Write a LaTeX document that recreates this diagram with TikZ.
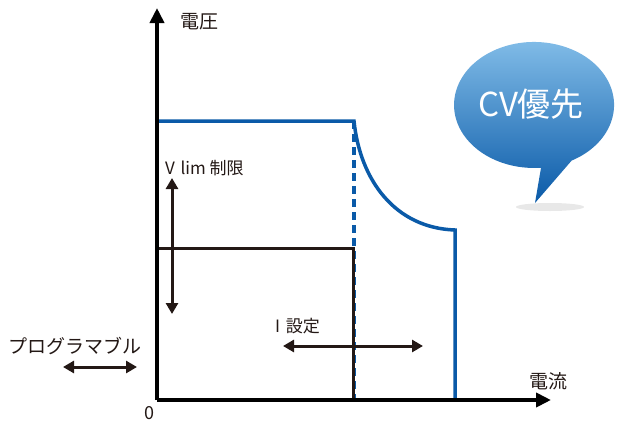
\documentclass[tikz,border=0pt]{standalone}
\usepackage{fontspec}
\usepackage{tikz}
\usetikzlibrary{arrows.meta,shapes.geometric}
\newfontfamily\jpfont{Noto Sans CJK JP}
\definecolor{cvblue}{HTML}{0A5AA8}
\definecolor{cvlight}{HTML}{86C0EA}
\definecolor{inkblack}{HTML}{231815}

\tikzset{
  axis/.style={line width=4pt,-{Triangle[length=15pt,width=14pt]}},
  limit/.style={inkblack,line width=3pt},
  curve/.style={cvblue,line width=3.5pt},
  dblarrow/.style={inkblack,line width=3pt,{Triangle[length=11pt,width=12pt]}-{Triangle[length=11pt,width=12pt]}},
  lbl/.style={font=\jpfont\fontsize{17}{17}\selectfont,text=inkblack,inner sep=0pt}
}

\begin{document}
\begin{tikzpicture}[x=1pt,y=-1pt]
  \useasboundingbox (0,0) rectangle (618,423);
  \coordinate (o) at (157,400);
  \coordinate (ytop) at (157,8);
  \coordinate (xend) at (551,400);

  % speech bubble
  \fill[gray!30,opacity=0.6] (550,207) ellipse (34pt and 4pt);
  \coordinate (tip) at (535,203);
  \shade[top color=cvlight,bottom color=cvblue]
    (tip) -- (534+37.6,105+55.6) arc[start angle=62,end angle=-275,x radius=80,y radius=63] -- cycle;
  \node[font=\jpfont\fontsize{33}{33}\selectfont,text=white] (cv) at (531,104) {CV優先};

  % limits
  \draw[curve,dash pattern=on 8pt off 5pt] (354,121) -- (354,400);
  \draw[limit] (o |- 0,248) -- (353,248) -- (353,400);
  \draw[curve] (o |- 0,121) -- (354,121) .. controls (360,180) and (395,228) .. (455,230) -- (455,400);

  % axes
  \draw[axis] (o) -- (ytop);
  \draw[axis] (o) -- (xend);
  \node[font=\jpfont\fontsize{19}{19}\selectfont,text=inkblack] (vlab) at (199,22) {電圧};
  \node[font=\jpfont\fontsize{19}{19}\selectfont,text=inkblack] (ilab) at (548,381) {電流};
  \node[font=\jpfont\fontsize{18}{18}\selectfont,text=inkblack] (zero) at (149,413) {0};

  % arrows
  \node[lbl,anchor=west] (vlim) at (165,168) {V\,\,lim 制限};
  \coordinate (va) at (172,178);
  \coordinate (vb) at (172,314);
  \draw[dblarrow] (va) -- (vb);
  \node[lbl,anchor=west] (iset) at (275,326) {I\,\,設定};
  \coordinate (ia) at (283,346);
  \coordinate (ib) at (423,346);
  \draw[dblarrow] (ia) -- (ib);
  \node[lbl,anchor=west,font=\jpfont\fontsize{19}{19}\selectfont] (prog) at (8,346) {プログラマブル};
  \coordinate (pa) at (63,367);
  \coordinate (pb) at (137,367);
  \draw[dblarrow] (pa) -- (pb);
\end{tikzpicture}
\end{document}
